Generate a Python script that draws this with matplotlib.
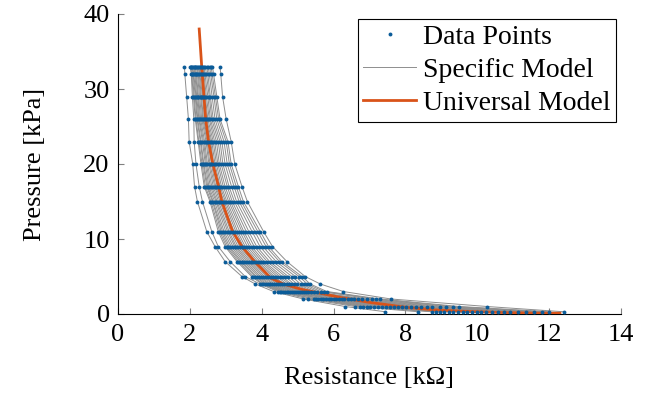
import numpy as np
import matplotlib
matplotlib.use("Agg")
import matplotlib.pyplot as plt

plt.rcParams['font.family'] = ['Liberation Serif', 'DejaVu Serif']

# ---------------------------
# DATA
# ---------------------------
# pressure steps applied to every sensor [kPa]
pressure_levels = [0.3, 1, 2, 3, 4, 5, 7, 9, 11, 15, 17, 20, 23, 26, 29, 32, 33]

# measured resistance [kOhm] of each sensor at the pressure levels above
sensor_resistance = [
    [7.44, 6.32, 5.16, 4.33, 3.82, 3.45, 2.98, 2.70, 2.47, 2.21, 2.13, 2.08, 1.98, 1.96, 1.91, 1.86, 1.85],
    [8.36, 6.60, 5.30, 4.45, 3.95, 3.54, 3.12, 2.79, 2.61, 2.35, 2.26, 2.17, 2.12, 2.11, 2.07, 2.04, 2.01],
    [8.74, 6.74, 5.45, 4.51, 4.00, 3.72, 3.31, 2.98, 2.79, 2.56, 2.40, 2.31, 2.23, 2.15, 2.10, 2.05, 2.02],
    [8.84, 6.82, 5.51, 4.55, 4.04, 3.76, 3.35, 3.02, 2.83, 2.59, 2.43, 2.34, 2.25, 2.17, 2.12, 2.07, 2.04],
    [9.85, 7.68, 6.08, 4.60, 4.09, 3.82, 3.40, 3.06, 2.87, 2.63, 2.47, 2.37, 2.29, 2.20, 2.15, 2.09, 2.06],
    [9.07, 7.02, 5.64, 4.64, 4.14, 3.86, 3.44, 3.10, 2.91, 2.65, 2.50, 2.39, 2.31, 2.22, 2.17, 2.11, 2.08],
    [9.20, 7.13, 5.71, 4.69, 4.19, 3.92, 3.49, 3.15, 2.95, 2.69, 2.53, 2.43, 2.35, 2.25, 2.19, 2.14, 2.11],
    [10.57, 8.29, 6.49, 4.74, 4.24, 3.97, 3.54, 3.20, 3.00, 2.73, 2.57, 2.46, 2.38, 2.27, 2.22, 2.16, 2.13],
    [9.46, 7.35, 5.86, 4.80, 4.30, 4.03, 3.59, 3.25, 3.05, 2.76, 2.61, 2.49, 2.41, 2.30, 2.24, 2.18, 2.15],
    [9.59, 7.46, 5.93, 4.85, 4.35, 4.08, 3.64, 3.29, 3.09, 2.80, 2.65, 2.53, 2.45, 2.33, 2.27, 2.21, 2.18],
    [9.72, 7.57, 6.00, 4.90, 4.41, 4.14, 3.69, 3.34, 3.14, 2.84, 2.69, 2.56, 2.48, 2.36, 2.30, 2.23, 2.20],
    [8.97, 6.93, 5.58, 4.95, 4.46, 4.20, 3.74, 3.39, 3.19, 2.88, 2.72, 2.60, 2.51, 2.38, 2.32, 2.26, 2.23],
    [9.98, 7.79, 6.15, 5.00, 4.51, 4.25, 3.79, 3.44, 3.23, 2.91, 2.76, 2.63, 2.55, 2.41, 2.35, 2.28, 2.25],
    [11.35, 8.95, 6.93, 5.06, 4.57, 4.31, 3.84, 3.49, 3.28, 2.95, 2.80, 2.66, 2.58, 2.44, 2.37, 2.31, 2.28],
    [10.24, 8.01, 6.30, 5.11, 4.62, 4.36, 3.89, 3.54, 3.33, 2.99, 2.84, 2.70, 2.61, 2.47, 2.40, 2.33, 2.30],
    [10.40, 8.15, 6.39, 5.17, 4.69, 4.43, 3.95, 3.60, 3.39, 3.03, 2.88, 2.74, 2.65, 2.50, 2.43, 2.36, 2.33],
    [9.33, 7.24, 5.78, 5.24, 4.76, 4.50, 4.01, 3.66, 3.45, 3.08, 2.93, 2.78, 2.69, 2.54, 2.46, 2.39, 2.36],
    [10.73, 8.42, 6.58, 5.30, 4.82, 4.57, 4.07, 3.72, 3.50, 3.13, 2.98, 2.82, 2.74, 2.57, 2.50, 2.42, 2.39],
    [10.92, 8.59, 6.69, 5.38, 4.90, 4.66, 4.15, 3.79, 3.57, 3.18, 3.04, 2.87, 2.79, 2.61, 2.54, 2.46, 2.43],
    [11.12, 8.75, 6.80, 5.46, 4.99, 4.74, 4.22, 3.86, 3.64, 3.24, 3.09, 2.92, 2.84, 2.65, 2.57, 2.50, 2.47],
    [10.11, 7.90, 6.23, 5.55, 5.08, 4.84, 4.31, 3.95, 3.73, 3.30, 3.16, 2.98, 2.89, 2.70, 2.62, 2.54, 2.51],
    [11.58, 9.14, 7.06, 5.64, 5.17, 4.94, 4.40, 4.03, 3.81, 3.37, 3.23, 3.04, 2.95, 2.75, 2.67, 2.58, 2.55],
    [11.80, 9.33, 7.19, 5.73, 5.27, 5.04, 4.49, 4.12, 3.89, 3.43, 3.29, 3.10, 3.01, 2.80, 2.71, 2.62, 2.59],
    [12.00, 9.50, 7.30, 5.81, 5.35, 5.12, 4.56, 4.19, 3.96, 3.49, 3.35, 3.15, 3.06, 2.84, 2.75, 2.66, 2.63],
    [12.40, 10.27, 7.60, 6.27, 5.63, 5.21, 4.70, 4.30, 4.05, 3.60, 3.45, 3.25, 3.15, 3.01, 2.91, 2.86, 2.84],
]

# universal model curve
universal_r = [2.26, 2.33, 2.44, 2.52, 2.64, 2.80, 2.89, 3.19, 3.45, 3.80, 4.25, 4.60, 5.10,
               5.60, 6.20, 7.00, 8.00, 8.80, 9.70, 10.60, 11.50, 12.30]
universal_p = [38.0, 33.0, 26.0, 23.0, 20.0, 17.0, 15.0, 11.0, 9.0, 7.0, 4.8, 4.0, 3.3,
               2.8, 2.2, 1.55, 0.9, 0.55, 0.35, 0.2, 0.13, 0.1]

# ---------------------------
# PLOT
# ---------------------------
blue = '#0b5c99'
orange = '#d95319'
gray = '#8e8e8e'
fs = 19

fig = plt.figure(figsize=(6.51, 3.93), dpi=100)
ax = fig.add_axes([118 / 651, 79 / 393, 503 / 651, 300 / 393])

for i, r in enumerate(sensor_resistance):
    ax.plot(r, pressure_levels, color=gray, lw=0.7, zorder=2,
            label='Specific Model' if i == 0 else None)

ax.plot(universal_r, universal_p, color=orange, lw=2.0, zorder=3,
        label='Universal Model')

for i, r in enumerate(sensor_resistance):
    ax.plot(r, pressure_levels, linestyle='none', marker='o', ms=2.8,
            mew=0, color=blue, zorder=4,
            label='Data Points' if i == 0 else None)

ax.set_xlim(0, 14)
ax.set_ylim(0, 40)
ax.set_xticks(range(0, 15, 2))
ax.set_yticks(range(0, 41, 10))
ax.spines['top'].set_visible(False)
ax.spines['right'].set_visible(False)
ax.spines['left'].set_linewidth(0.8)
ax.spines['bottom'].set_linewidth(0.8)
ax.tick_params(direction='in', length=4, width=0.8, color='#808080',
               labelsize=fs)
ax.tick_params(axis='x', pad=7)
ax.tick_params(axis='y', pad=6)

ax.set_xlabel('Resistance [kΩ]', fontsize=fs, labelpad=15)
ax.set_ylabel('Pressure [kPa]', fontsize=fs, labelpad=27)

handles, labels = ax.get_legend_handles_labels()
order = [labels.index('Data Points'), labels.index('Specific Model'), labels.index('Universal Model')]
leg = ax.legend([handles[k] for k in order], [labels[k] for k in order],
                loc='upper right', bbox_to_anchor=(0.99, 0.985), borderaxespad=0,
                fontsize=20, frameon=True, fancybox=False, framealpha=1,
                edgecolor='black', handlelength=1.9, handletextpad=0.25,
                labelspacing=0.28, borderpad=0.2, numpoints=1)
leg.get_frame().set_linewidth(0.8)

fig.savefig('out.png', dpi=100)
